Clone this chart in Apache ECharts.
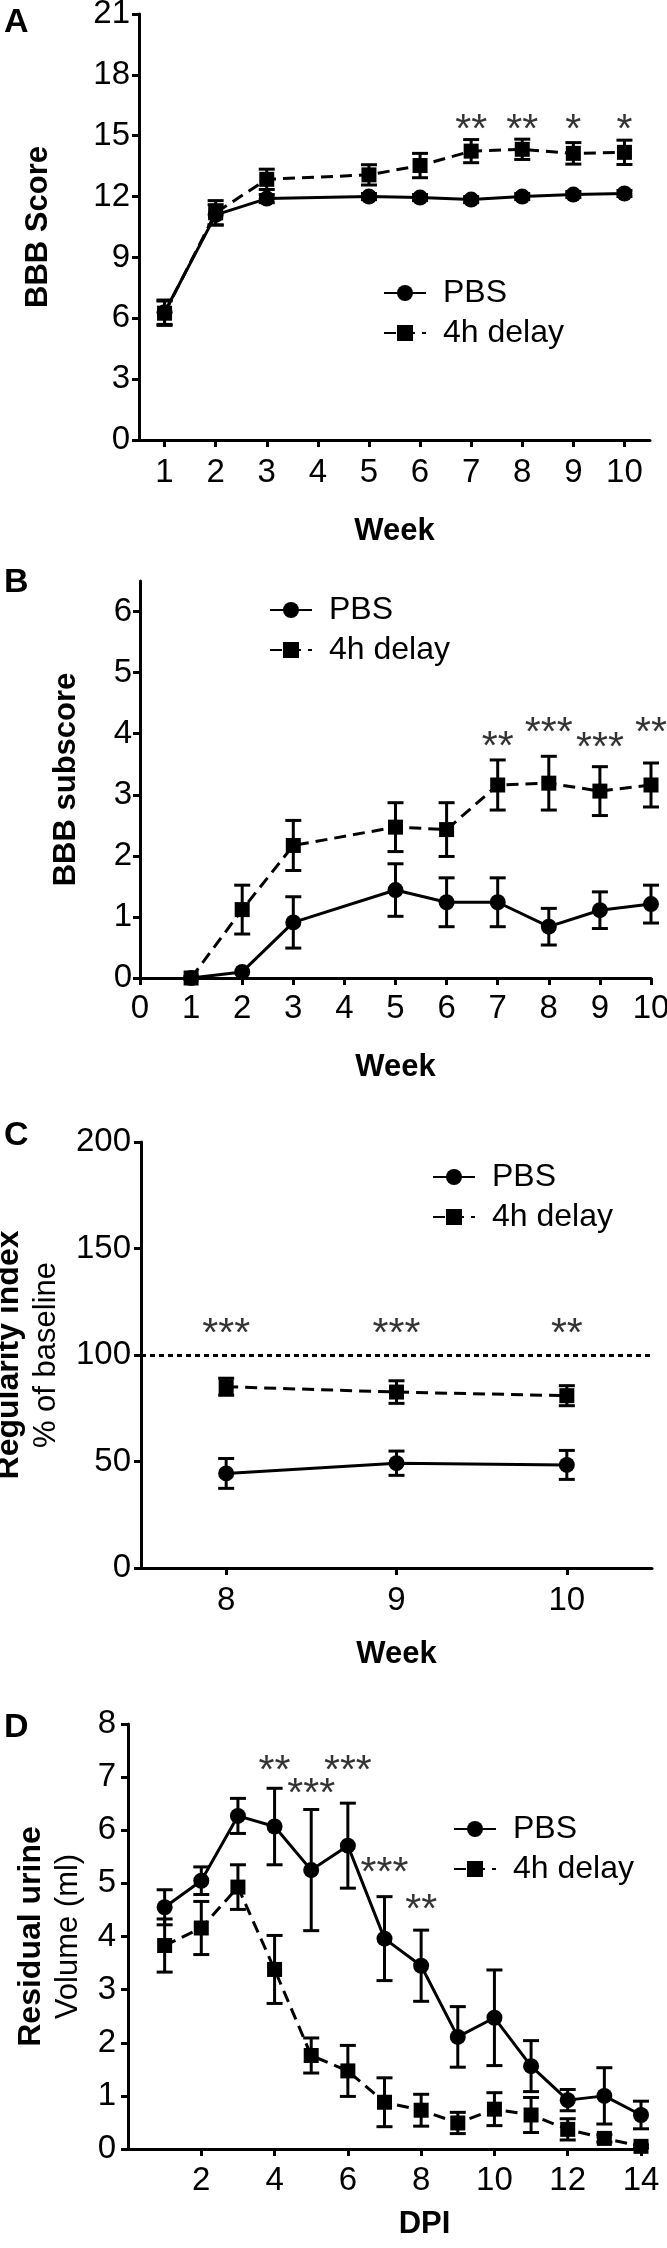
<!DOCTYPE html>
<html>
<head>
<meta charset="utf-8">
<script src="https://cdn.jsdelivr.net/npm/echarts@6/dist/echarts.min.js"></script>
<style>
html,body{margin:0;padding:0;background:#fff;}
#chart{width:667px;height:2248px;}
</style>
</head>
<body>
<div id="chart"></div>
<script>
// ---------- Data ----------
// Panel A: BBB score
const weeksA = ['1','2','3','4','5','6','7','8','9','10'];
const pbsA      = [6.3, 11.1, 11.9, null, 12.0, 11.95, 11.85, 12.0, 12.1, 12.15];
const pbsAErr   = [0.6, 0.5, 0.2, null, 0.15, 0.15, 0.15, 0.15, 0.15, 0.15];
const delayA    = [6.25, 11.2, 12.85, null, 13.07, 13.53, 14.24, 14.33, 14.13, 14.18];
const delayAErr = [0.6, 0.6, 0.5, null, 0.5, 0.6, 0.57, 0.5, 0.53, 0.6];
const starsA     = ['', '', '', '', '', '', '**', '**', '*', '*'];
const starLevelA = [null, null, null, null, null, null, 15.7, 15.7, 15.7, 15.7];

// Panel B: BBB subscore
const weeksB    = [1, 2, 3, 5, 6, 7, 8, 9, 10];
const pbsB      = [0, 0.1, 0.91, 1.44, 1.24, 1.24, 0.84, 1.11, 1.21];
const pbsBErr   = [0, 0, 0.42, 0.43, 0.4, 0.4, 0.3, 0.3, 0.31];
const delayB    = [0, 1.12, 2.17, 2.47, 2.43, 3.16, 3.19, 3.06, 3.16];
const delayBErr = [0, 0.4, 0.41, 0.4, 0.44, 0.41, 0.44, 0.4, 0.36];
const starsB     = ['', '', '', '', '', '**', '***', '***', '**'];
const starLevelB = [null, null, null, null, null, 3.92, 4.15, 3.9, 4.15];
const yTicksB   = [0, 1, 2, 3, 4, 5, 6];
const xTicksB   = [0, 1, 2, 3, 4, 5, 6, 7, 8, 9, 10];

// Panel C: Regularity index
const weeksC    = ['8', '9', '10'];
const pbsC      = [44.4, 49.2, 48.4];
const pbsCErr   = [7, 5.7, 6.8];
const delayC    = [85.1, 82.6, 80.9];
const delayCErr = [4, 5.3, 4.7];
const starsC     = ['***', '***', '**'];
const starLevelC = [113.8, 113.8, 113.8];
const baselineC  = 100;

// Panel D: Residual urine
const dpiD      = [1, 2, 3, 4, 5, 6, 7, 8, 9, 10, 11, 12, 13, 14];
const pbsD      = [4.55, 5.05, 6.27, 6.07, 5.25, 5.71, 3.96, 3.45, 2.11, 2.47, 1.56, 0.92, 1.0, 0.64];
const pbsDErr   = [0.33, 0.26, 0.33, 0.72, 1.14, 0.8, 0.79, 0.67, 0.57, 0.9, 0.48, 0.2, 0.53, 0.26];
const delayD    = [3.83, 4.16, 4.93, 3.38, 1.76, 1.47, 0.88, 0.73, 0.49, 0.75, 0.64, 0.37, 0.2, 0.05];
const delayDErr = [0.5, 0.5, 0.42, 0.64, 0.33, 0.48, 0.46, 0.3, 0.2, 0.31, 0.33, 0.2, 0.07, 0.03];
const starsD     = ['', '', '', '**', '***', '***', '***', '**', '', '', '', '', '', ''];
const starLevelD = [null, null, null, 7.27, 6.83, 7.27, 5.36, 4.66, null, null, null, null, null, null];
const xTicksD   = [2, 4, 6, 8, 10, 12, 14];

// ---------- Helpers ----------
const FONT = "'Liberation Sans', Arial, Helvetica, sans-serif";
const BLACK = '#000';

function pairs(xs, ys) {
  const out = [];
  for (let i = 0; i < ys.length; i++) if (ys[i] != null) out.push([xs[i], ys[i]]);
  return out;
}
function errData(xs, ys, es) {
  const out = [];
  for (let i = 0; i < ys.length; i++) {
    if (ys[i] == null || es[i] == null || es[i] <= 0) continue;
    out.push([xs[i], ys[i] - es[i], ys[i] + es[i]]);
  }
  return out;
}
function starData(xs, levels, labels) {
  const out = [];
  for (let i = 0; i < levels.length; i++) if (levels[i] != null && labels[i]) out.push([xs[i], levels[i], labels[i]]);
  return out;
}
function renderErr(params, api) {
  const x = api.value(0);
  const lo = api.coord([x, api.value(1)]);
  const hi = api.coord([x, api.value(2)]);
  const w = 8;
  const st = { stroke: BLACK, lineWidth: 3, fill: null };
  return {
    type: 'group',
    children: [
      { type: 'line', shape: { x1: hi[0], y1: hi[1], x2: lo[0], y2: lo[1] }, style: st },
      { type: 'line', shape: { x1: hi[0] - w, y1: hi[1], x2: hi[0] + w, y2: hi[1] }, style: st },
      { type: 'line', shape: { x1: lo[0] - w, y1: lo[1], x2: lo[0] + w, y2: lo[1] }, style: st }
    ]
  };
}
function lineSer(name, idx, data, dashed, extra) {
  return Object.assign({
    type: 'line', name: name, xAxisIndex: idx, yAxisIndex: idx, data: data,
    symbol: dashed ? 'rect' : 'circle', symbolSize: dashed ? 15 : 16,
    showSymbol: true, connectNulls: true, z: 5,
    itemStyle: { color: BLACK, borderWidth: 0 },
    lineStyle: { color: BLACK, width: 3, type: dashed ? [12, 7] : 'solid' },
    emphasis: { disabled: true }
  }, extra || {});
}
function errSer(name, idx, data) {
  return { type: 'custom', name: name, xAxisIndex: idx, yAxisIndex: idx, data: data,
    renderItem: renderErr, z: 4, silent: true, encode: { x: 0, y: [1, 2] } };
}
function starSer(idx, data) {
  return { type: 'scatter', name: 'sig' + idx, xAxisIndex: idx, yAxisIndex: idx, data: data,
    symbolSize: 0, silent: true, z: 6,
    label: { show: true, position: 'inside', offset: [0, 9], formatter: p => p.data[2],
      color: BLACK, fontSize: 41, fontFamily: FONT } };
}
function axisLine() { return { show: true, onZero: false, lineStyle: { color: BLACK, width: 3 } }; }
function axisTick(extra) { return Object.assign({ show: true, inside: false, length: 7, lineStyle: { color: BLACK, width: 3 } }, extra || {}); }
function axisLabel(extra) { return Object.assign({ color: BLACK, fontSize: 33, fontFamily: FONT }, extra || {}); }
function legend(left, top) {
  return { data: ['PBS', '4h delay'], orient: 'vertical', left: left, top: top, padding: 0,
    itemWidth: 42, itemHeight: 20, itemGap: 8, selectedMode: false,
    textStyle: { fontSize: 32, color: BLACK, fontFamily: FONT, padding: [0, 0, 0, 12] } };
}
const titleStyle = { color: BLACK, fontSize: 31, fontWeight: 'bold', fontFamily: FONT };
function twoLineTitle() {
  return { color: BLACK, fontFamily: FONT, fontSize: 31, lineHeight: 37, rich: {
    b: { fontSize: 32, fontWeight: 'bold', color: BLACK, fontFamily: FONT, lineHeight: 37 },
    r: { fontSize: 31, color: BLACK, fontFamily: FONT, lineHeight: 37 } } };
}

// ---------- Option ----------
const option = {
  animation: false,
  backgroundColor: '#fff',
  textStyle: { fontFamily: FONT },
  grid: [
    { left: 139, top: 14, width: 511, height: 426, containLabel: false, outerBoundsMode: 'none' },
    { left: 140, top: 581, width: 511, height: 397, containLabel: false, outerBoundsMode: 'none' },
    { left: 141, top: 1142, width: 511, height: 426, containLabel: false, outerBoundsMode: 'none' },
    { left: 128, top: 1724, width: 513, height: 425, containLabel: false, outerBoundsMode: 'none' }
  ],
  xAxis: [
    { gridIndex: 0, type: 'category', data: weeksA, boundaryGap: true,
      axisLine: axisLine(), axisTick: axisTick({ alignWithLabel: true, interval: 0 }),
      axisLabel: axisLabel({ margin: 16, interval: 0 }), splitLine: { show: false },
      name: 'Week', nameLocation: 'middle', nameGap: 76, nameTextStyle: titleStyle },
    { gridIndex: 1, type: 'value', min: 0, max: 10, interval: 1,
      axisLine: axisLine(), axisTick: axisTick({ customValues: xTicksB }),
      axisLabel: axisLabel({ margin: 14, customValues: xTicksB }), splitLine: { show: false },
      name: 'Week', nameLocation: 'middle', nameGap: 74, nameTextStyle: titleStyle },
    { gridIndex: 2, type: 'category', data: weeksC, boundaryGap: true,
      axisLine: axisLine(), axisTick: axisTick({ alignWithLabel: true, interval: 0 }),
      axisLabel: axisLabel({ margin: 16, interval: 0 }), splitLine: { show: false },
      name: 'Week', nameLocation: 'middle', nameGap: 71, nameTextStyle: titleStyle },
    { gridIndex: 3, type: 'value', min: 0, max: 14, interval: 2,
      axisLine: axisLine(), axisTick: axisTick({ customValues: xTicksD }),
      axisLabel: axisLabel({ margin: 15, customValues: xTicksD }), splitLine: { show: false },
      name: '{s| }{t|DPI}', nameLocation: 'middle', nameGap: 60,
      nameTextStyle: Object.assign({ rich: {
        s: { width: 80, fontSize: 31, fontFamily: FONT },
        t: { fontSize: 31, fontWeight: 'bold', color: BLACK, fontFamily: FONT } } }, titleStyle) }
  ],
  yAxis: [
    { gridIndex: 0, type: 'value', min: 0, max: 21, interval: 3,
      axisLine: axisLine(), axisTick: axisTick(), axisLabel: axisLabel({ margin: 9 }),
      splitLine: { show: false },
      name: 'BBB Score', nameLocation: 'middle', nameRotate: 90, nameGap: 85, nameTextStyle: titleStyle },
    { gridIndex: 1, type: 'value', min: 0, max: 6.5, interval: 1,
      axisLine: axisLine(), axisTick: axisTick({ customValues: yTicksB }),
      axisLabel: axisLabel({ margin: 8, customValues: yTicksB }), splitLine: { show: false },
      name: 'BBB subscore', nameLocation: 'middle', nameRotate: 90, nameGap: 58, nameTextStyle: titleStyle },
    { gridIndex: 2, type: 'value', min: 0, max: 200, interval: 50,
      axisLine: axisLine(), axisTick: axisTick(), axisLabel: axisLabel({ margin: 10 }),
      splitLine: { show: false },
      name: '{b|Regularity index}\n{r|% of baseline}', nameLocation: 'middle', nameRotate: 90, nameGap: 69,
      nameTextStyle: twoLineTitle() },
    { gridIndex: 3, type: 'value', min: 0, max: 8, interval: 1,
      axisLine: axisLine(), axisTick: axisTick(), axisLabel: axisLabel({ margin: 12 }),
      splitLine: { show: false },
      name: '{b|Residual urine}\n{r|Volume (ml)}', nameLocation: 'middle', nameRotate: 90, nameGap: 41,
      nameTextStyle: twoLineTitle() }
  ],
  legend: [ legend(383, 277), legend(269, 594), legend(432, 1161), legend(453, 1813) ],
  graphic: [
    { type: 'text', left: 4, top: 6, style: { text: 'A', font: 'bold 34px ' + FONT, fill: BLACK } },
    { type: 'text', left: 4, top: 566, style: { text: 'B', font: 'bold 34px ' + FONT, fill: BLACK } },
    { type: 'text', left: 4, top: 1119, style: { text: 'C', font: 'bold 34px ' + FONT, fill: BLACK } },
    { type: 'text', left: 4, top: 1711, style: { text: 'D', font: 'bold 34px ' + FONT, fill: BLACK } }
  ],
  series: []
};

const idxA = weeksA.map((w, i) => i);
const idxC = weeksC.map((w, i) => i);

option.series.push(
  errSer('PBS err A', 0, errData(idxA, pbsA, pbsAErr)),
  errSer('delay err A', 0, errData(idxA, delayA, delayAErr)),
  lineSer('PBS', 0, pairs(idxA, pbsA), false),
  lineSer('4h delay', 0, pairs(idxA, delayA), true),
  starSer(0, starData(idxA, starLevelA, starsA)),

  errSer('PBS err B', 1, errData(weeksB, pbsB, pbsBErr)),
  errSer('delay err B', 1, errData(weeksB, delayB, delayBErr)),
  lineSer('PBS', 1, pairs(weeksB, pbsB), false),
  lineSer('4h delay', 1, pairs(weeksB, delayB), true),
  starSer(1, starData(weeksB, starLevelB, starsB)),

  errSer('PBS err C', 2, errData(idxC, pbsC, pbsCErr)),
  errSer('delay err C', 2, errData(idxC, delayC, delayCErr)),
  lineSer('PBS', 2, pairs(idxC, pbsC), false),
  lineSer('4h delay', 2, pairs(idxC, delayC), true, {
    markLine: { silent: true, symbol: 'none', label: { show: false },
      lineStyle: { color: BLACK, width: 3, type: [5, 4] },
      emphasis: { disabled: true },
      data: [{ yAxis: baselineC }] } }),
  starSer(2, starData(idxC, starLevelC, starsC)),

  errSer('PBS err D', 3, errData(dpiD, pbsD, pbsDErr)),
  errSer('delay err D', 3, errData(dpiD, delayD, delayDErr)),
  lineSer('PBS', 3, pairs(dpiD, pbsD), false),
  lineSer('4h delay', 3, pairs(dpiD, delayD), true),
  starSer(3, starData(dpiD, starLevelD, starsD))
);

const chart = echarts.init(document.getElementById('chart'), null, { renderer: 'canvas', width: 667, height: 2248 });
chart.setOption(option);
</script>
</body>
</html>
